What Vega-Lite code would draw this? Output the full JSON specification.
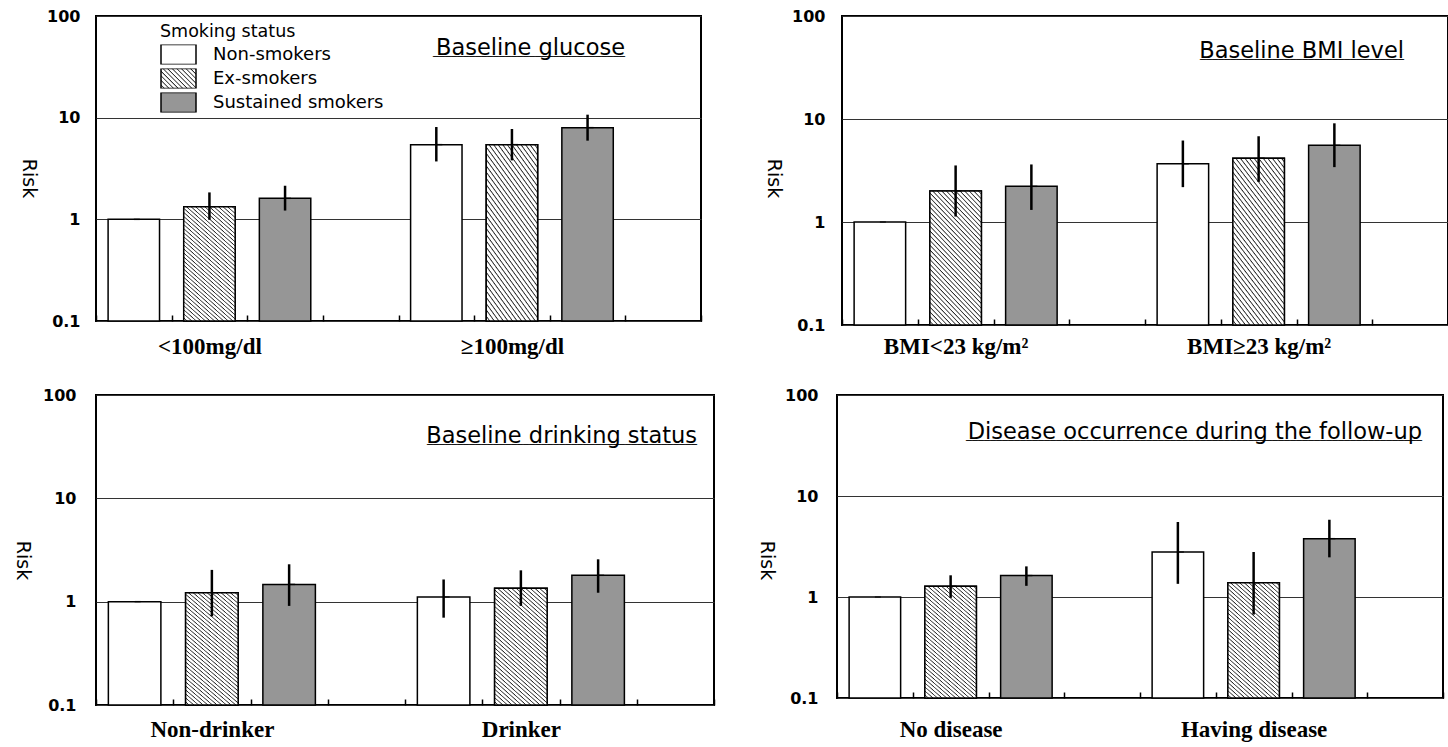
{
"$schema": "https://vega.github.io/schema/vega-lite/v6.json",
"padding": {"left": 11, "top": 7, "right": 0, "bottom": 0},
"config": {
 "font": "DejaVu Sans",
 "view": {"stroke": "black", "strokeWidth": 2},
 "axis": {"labelColor": "black", "titleColor": "black", "domain": false},
 "axisX": {"grid": false, "ticks": true, "tickBand": "extent", "tickSize": 6, "tickColor": "black", "tickWidth": 1.5, "labelAngle": 0, "labelFont": "Liberation Serif", "labelFontWeight": "bold", "labelFontSize": 23, "labelLimit": 0, "labelOverlap": false, "labelFlush": false},
 "axisY": {"grid": true, "gridColor": "#333333", "gridWidth": 1, "gridOpacity": 1, "ticks": false, "labelFont": "DejaVu Sans", "labelFontSize": 16, "labelFontWeight": "bold", "titleFont": "DejaVu Sans", "titleFontSize": 19, "titleFontWeight": "normal", "titleAngle": 90, "titleBaseline": "top"},
 "title": {"font": "DejaVu Sans", "fontSize": 22.5, "fontWeight": "normal", "color": "black", "anchor": "end", "frame": "group", "baseline": "alphabetic", "subtitleFont": "DejaVu Sans", "subtitleFontSize": 12, "subtitleColor": "black", "subtitlePadding": -14}
},
"datasets": {
 "glucose": [
  {"group": "<100mg/dl", "status": "Non-smokers", "bar": "<100mg/dl | Non-smokers", "risk": 1, "lo": 1, "hi": 1},
  {"group": "<100mg/dl", "status": "Ex-smokers", "bar": "<100mg/dl | Ex-smokers", "risk": 1.33, "lo": 0.99, "hi": 1.84},
  {"group": "<100mg/dl", "status": "Sustained smokers", "bar": "<100mg/dl | Sustained smokers", "risk": 1.61, "lo": 1.22, "hi": 2.14},
  {"group": "≥100mg/dl", "status": "Non-smokers", "bar": "≥100mg/dl | Non-smokers", "risk": 5.43, "lo": 3.71, "hi": 8.09},
  {"group": "≥100mg/dl", "status": "Ex-smokers", "bar": "≥100mg/dl | Ex-smokers", "risk": 5.43, "lo": 3.8, "hi": 7.74},
  {"group": "≥100mg/dl", "status": "Sustained smokers", "bar": "≥100mg/dl | Sustained smokers", "risk": 7.98, "lo": 5.94, "hi": 10.7}
 ],
 "bmi": [
  {"group": "BMI<23 kg/m²", "status": "Non-smokers", "bar": "BMI<23 kg/m² | Non-smokers", "risk": 1, "lo": 1, "hi": 1},
  {"group": "BMI<23 kg/m²", "status": "Ex-smokers", "bar": "BMI<23 kg/m² | Ex-smokers", "risk": 2.0, "lo": 1.13, "hi": 3.54},
  {"group": "BMI<23 kg/m²", "status": "Sustained smokers", "bar": "BMI<23 kg/m² | Sustained smokers", "risk": 2.22, "lo": 1.31, "hi": 3.62},
  {"group": "BMI≥23 kg/m²", "status": "Non-smokers", "bar": "BMI≥23 kg/m² | Non-smokers", "risk": 3.67, "lo": 2.18, "hi": 6.18},
  {"group": "BMI≥23 kg/m²", "status": "Ex-smokers", "bar": "BMI≥23 kg/m² | Ex-smokers", "risk": 4.17, "lo": 2.45, "hi": 6.8},
  {"group": "BMI≥23 kg/m²", "status": "Sustained smokers", "bar": "BMI≥23 kg/m² | Sustained smokers", "risk": 5.56, "lo": 3.41, "hi": 9.08}
 ],
 "drinking": [
  {"group": "Non-drinker", "status": "Non-smokers", "bar": "Non-drinker | Non-smokers", "risk": 1, "lo": 1, "hi": 1},
  {"group": "Non-drinker", "status": "Ex-smokers", "bar": "Non-drinker | Ex-smokers", "risk": 1.22, "lo": 0.72, "hi": 2.03},
  {"group": "Non-drinker", "status": "Sustained smokers", "bar": "Non-drinker | Sustained smokers", "risk": 1.47, "lo": 0.91, "hi": 2.3},
  {"group": "Drinker", "status": "Non-smokers", "bar": "Drinker | Non-smokers", "risk": 1.11, "lo": 0.7, "hi": 1.64},
  {"group": "Drinker", "status": "Ex-smokers", "bar": "Drinker | Ex-smokers", "risk": 1.35, "lo": 0.91, "hi": 2.01},
  {"group": "Drinker", "status": "Sustained smokers", "bar": "Drinker | Sustained smokers", "risk": 1.8, "lo": 1.22, "hi": 2.57}
 ],
 "disease": [
  {"group": "No disease", "status": "Non-smokers", "bar": "No disease | Non-smokers", "risk": 1, "lo": 1, "hi": 1},
  {"group": "No disease", "status": "Ex-smokers", "bar": "No disease | Ex-smokers", "risk": 1.28, "lo": 0.98, "hi": 1.64},
  {"group": "No disease", "status": "Sustained smokers", "bar": "No disease | Sustained smokers", "risk": 1.63, "lo": 1.29, "hi": 2.01},
  {"group": "Having disease", "status": "Non-smokers", "bar": "Having disease | Non-smokers", "risk": 2.79, "lo": 1.35, "hi": 5.53},
  {"group": "Having disease", "status": "Ex-smokers", "bar": "Having disease | Ex-smokers", "risk": 1.38, "lo": 0.67, "hi": 2.79},
  {"group": "Having disease", "status": "Sustained smokers", "bar": "Having disease | Sustained smokers", "risk": 3.78, "lo": 2.47, "hi": 5.82}
 ]
},
"resolve": {"scale": {"fill": "independent", "x": "independent", "y": "independent"}, "legend": {"fill": "independent"}, "axis": {"x": "independent", "y": "independent"}},
"spacing": 27,
"vconcat": [
 {
  "spacing": 59,
  "resolve": {"scale": {"fill": "independent", "x": "independent", "y": "independent"}, "legend": {"fill": "independent"}, "axis": {"x": "independent", "y": "independent"}},
  "hconcat": [
   {
    "width": 605, "height": 305,
    "data": {"name": "glucose"},
    "title": {"text": "Baseline glucose", "subtitle": "________________________________", "offset": -51, "dx": -76},
    "encoding": {
     "x": {"field": "bar", "type": "nominal",
      "scale": {"domain": ["<100mg/dl | Non-smokers", "<100mg/dl | Ex-smokers", "<100mg/dl | Sustained smokers", "gap1", "≥100mg/dl | Non-smokers", "≥100mg/dl | Ex-smokers", "≥100mg/dl | Sustained smokers", "gap2"], "paddingInner": 0, "paddingOuter": 0},
      "axis": {"title": null, "offset": -6, "labelPadding": 14, "labelExpr": "datum.value == '<100mg/dl | Ex-smokers' ? '<100mg/dl' : datum.value == '≥100mg/dl | Ex-smokers' ? '≥100mg/dl' : ''"}},
     "y": {"field": "risk", "type": "quantitative", "scale": {"type": "log", "domain": [0.1, 100]},
      "axis": {"title": "Risk", "values": [0.1, 1, 10, 100], "format": "~g", "titleY": 162, "labelPadding": 16, "titlePadding": 9}}
    },
    "layer": [
     {"mark": {"type": "bar", "stroke": "black", "strokeWidth": 1.5, "width": {"band": 0.68}},
      "encoding": {"y2": {"datum": 0.1},
       "fill": {"field": "status", "type": "nominal",
        "scale": {"domain": ["Non-smokers", "Ex-smokers", "Sustained smokers"], "range": ["#ffffff", {"expr": "{gradient: 'linear', x1: 0, y1: 1, x2: 1.185, y2: 0.324, stops: [{offset: 0, color: '#fff'}, {offset: 0.043, color: '#fff'}, {offset: 0.067, color: '#222'}, {offset: 0.083, color: '#fff'}, {offset: 0.127, color: '#fff'}, {offset: 0.15, color: '#222'}, {offset: 0.167, color: '#fff'}, {offset: 0.21, color: '#fff'}, {offset: 0.233, color: '#222'}, {offset: 0.25, color: '#fff'}, {offset: 0.293, color: '#fff'}, {offset: 0.317, color: '#222'}, {offset: 0.333, color: '#fff'}, {offset: 0.377, color: '#fff'}, {offset: 0.4, color: '#222'}, {offset: 0.417, color: '#fff'}, {offset: 0.46, color: '#fff'}, {offset: 0.483, color: '#222'}, {offset: 0.5, color: '#fff'}, {offset: 0.543, color: '#fff'}, {offset: 0.567, color: '#222'}, {offset: 0.583, color: '#fff'}, {offset: 0.627, color: '#fff'}, {offset: 0.65, color: '#222'}, {offset: 0.667, color: '#fff'}, {offset: 0.71, color: '#fff'}, {offset: 0.733, color: '#222'}, {offset: 0.75, color: '#fff'}, {offset: 0.793, color: '#fff'}, {offset: 0.817, color: '#222'}, {offset: 0.833, color: '#fff'}, {offset: 0.877, color: '#fff'}, {offset: 0.9, color: '#222'}, {offset: 0.917, color: '#fff'}, {offset: 0.96, color: '#fff'}, {offset: 0.983, color: '#222'}, {offset: 1, color: '#fff'}]}"}, "#969696"]},
        "legend": {"orient": "none", "legendX": 64, "legendY": 7, "title": "Smoking status", "titleFont": "DejaVu Sans", "titleFontSize": 17.5, "titleFontWeight": "normal", "titleColor": "black", "titlePadding": 4, "labelFont": "DejaVu Sans", "labelFontSize": 18, "labelColor": "black", "labelOffset": 16, "labelLimit": 300, "symbolType": "M-1,-0.571H1V0.571H-1Z", "symbolSize": 1225, "symbolStrokeColor": "black", "symbolStrokeWidth": 1.5, "symbolOpacity": 1, "clipHeight": 20, "rowPadding": 4, "padding": 0}}}},
     {"transform": [{"filter": "datum.status === 'Ex-smokers'"}], "mark": {"type": "bar", "stroke": "black", "strokeWidth": 1.5, "width": {"band": 0.68}, "fill": {"gradient": "linear", "x1": 0, "y1": 1, "x2": 0.49, "y2": -0.224, "stops": [
{"offset":0,"color":"#fff"},{"offset":0.013,"color":"#fff"},{"offset":0.02,"color":"#222"},
{"offset":0.025,"color":"#fff"},{"offset":0.038,"color":"#fff"},{"offset":0.045,"color":"#222"},
{"offset":0.05,"color":"#fff"},{"offset":0.063,"color":"#fff"},{"offset":0.07,"color":"#222"},
{"offset":0.075,"color":"#fff"},{"offset":0.088,"color":"#fff"},{"offset":0.095,"color":"#222"},
{"offset":0.1,"color":"#fff"},{"offset":0.113,"color":"#fff"},{"offset":0.12,"color":"#222"},
{"offset":0.125,"color":"#fff"},{"offset":0.138,"color":"#fff"},{"offset":0.145,"color":"#222"},
{"offset":0.15,"color":"#fff"},{"offset":0.163,"color":"#fff"},{"offset":0.17,"color":"#222"},
{"offset":0.175,"color":"#fff"},{"offset":0.188,"color":"#fff"},{"offset":0.195,"color":"#222"},
{"offset":0.2,"color":"#fff"},{"offset":0.213,"color":"#fff"},{"offset":0.22,"color":"#222"},
{"offset":0.225,"color":"#fff"},{"offset":0.238,"color":"#fff"},{"offset":0.245,"color":"#222"},
{"offset":0.25,"color":"#fff"},{"offset":0.263,"color":"#fff"},{"offset":0.27,"color":"#222"},
{"offset":0.275,"color":"#fff"},{"offset":0.288,"color":"#fff"},{"offset":0.295,"color":"#222"},
{"offset":0.3,"color":"#fff"},{"offset":0.313,"color":"#fff"},{"offset":0.32,"color":"#222"},
{"offset":0.325,"color":"#fff"},{"offset":0.338,"color":"#fff"},{"offset":0.345,"color":"#222"},
{"offset":0.35,"color":"#fff"},{"offset":0.363,"color":"#fff"},{"offset":0.37,"color":"#222"},
{"offset":0.375,"color":"#fff"},{"offset":0.388,"color":"#fff"},{"offset":0.395,"color":"#222"},
{"offset":0.4,"color":"#fff"},{"offset":0.413,"color":"#fff"},{"offset":0.42,"color":"#222"},
{"offset":0.425,"color":"#fff"},{"offset":0.438,"color":"#fff"},{"offset":0.445,"color":"#222"},
{"offset":0.45,"color":"#fff"},{"offset":0.463,"color":"#fff"},{"offset":0.47,"color":"#222"},
{"offset":0.475,"color":"#fff"},{"offset":0.488,"color":"#fff"},{"offset":0.495,"color":"#222"},
{"offset":0.5,"color":"#fff"},{"offset":0.513,"color":"#fff"},{"offset":0.52,"color":"#222"},
{"offset":0.525,"color":"#fff"},{"offset":0.538,"color":"#fff"},{"offset":0.545,"color":"#222"},
{"offset":0.55,"color":"#fff"},{"offset":0.563,"color":"#fff"},{"offset":0.57,"color":"#222"},
{"offset":0.575,"color":"#fff"},{"offset":0.588,"color":"#fff"},{"offset":0.595,"color":"#222"},
{"offset":0.6,"color":"#fff"},{"offset":0.613,"color":"#fff"},{"offset":0.62,"color":"#222"},
{"offset":0.625,"color":"#fff"},{"offset":0.638,"color":"#fff"},{"offset":0.645,"color":"#222"},
{"offset":0.65,"color":"#fff"},{"offset":0.663,"color":"#fff"},{"offset":0.67,"color":"#222"},
{"offset":0.675,"color":"#fff"},{"offset":0.688,"color":"#fff"},{"offset":0.695,"color":"#222"},
{"offset":0.7,"color":"#fff"},{"offset":0.713,"color":"#fff"},{"offset":0.72,"color":"#222"},
{"offset":0.725,"color":"#fff"},{"offset":0.738,"color":"#fff"},{"offset":0.745,"color":"#222"},
{"offset":0.75,"color":"#fff"},{"offset":0.763,"color":"#fff"},{"offset":0.77,"color":"#222"},
{"offset":0.775,"color":"#fff"},{"offset":0.788,"color":"#fff"},{"offset":0.795,"color":"#222"},
{"offset":0.8,"color":"#fff"},{"offset":0.813,"color":"#fff"},{"offset":0.82,"color":"#222"},
{"offset":0.825,"color":"#fff"},{"offset":0.838,"color":"#fff"},{"offset":0.845,"color":"#222"},
{"offset":0.85,"color":"#fff"},{"offset":0.863,"color":"#fff"},{"offset":0.87,"color":"#222"},
{"offset":0.875,"color":"#fff"},{"offset":0.888,"color":"#fff"},{"offset":0.895,"color":"#222"},
{"offset":0.9,"color":"#fff"},{"offset":0.913,"color":"#fff"},{"offset":0.92,"color":"#222"},
{"offset":0.925,"color":"#fff"},{"offset":0.938,"color":"#fff"},{"offset":0.945,"color":"#222"},
{"offset":0.95,"color":"#fff"},{"offset":0.963,"color":"#fff"},{"offset":0.97,"color":"#222"},
{"offset":0.975,"color":"#fff"},{"offset":0.988,"color":"#fff"},{"offset":0.995,"color":"#222"},
{"offset":1,"color":"#fff"}
 ]}}, "encoding": {"y2": {"datum": 0.1}}},
     {"mark": {"type": "rule", "strokeWidth": 2.5, "color": "black"}, "encoding": {"y": {"field": "lo", "type": "quantitative"}, "y2": {"field": "hi"}}},
     {"mark": {"type": "tick", "orient": "horizontal", "size": 6, "thickness": 1.5, "xOffset": 3, "color": "black"}, "encoding": {}}
    ]
   },
   {
    "width": 606, "height": 309,
    "data": {"name": "bmi"},
    "title": {"text": "Baseline BMI level", "subtitle": "__________________________________", "offset": -54, "dx": -44},
    "encoding": {
     "x": {"field": "bar", "type": "nominal",
      "scale": {"domain": ["BMI<23 kg/m² | Non-smokers", "BMI<23 kg/m² | Ex-smokers", "BMI<23 kg/m² | Sustained smokers", "gap1", "BMI≥23 kg/m² | Non-smokers", "BMI≥23 kg/m² | Ex-smokers", "BMI≥23 kg/m² | Sustained smokers", "gap2"], "paddingInner": 0, "paddingOuter": 0},
      "axis": {"title": null, "offset": -6, "labelPadding": 10, "labelExpr": "datum.value == 'BMI<23 kg/m² | Ex-smokers' ? 'BMI<23 kg/m²' : datum.value == 'BMI≥23 kg/m² | Ex-smokers' ? 'BMI≥23 kg/m²' : ''"}},
     "y": {"field": "risk", "type": "quantitative", "scale": {"type": "log", "domain": [0.1, 100]},
      "axis": {"title": "Risk", "values": [0.1, 1, 10, 100], "format": "~g", "titleY": 162, "labelPadding": 17, "titlePadding": 9}}
    },
    "layer": [
     {"mark": {"type": "bar", "stroke": "black", "strokeWidth": 1.5, "width": {"band": 0.68}},
      "encoding": {"y2": {"datum": 0.1},
       "fill": {"field": "status", "type": "nominal", "scale": {"domain": ["Non-smokers", "Ex-smokers", "Sustained smokers"], "range": ["#ffffff", "#ffffff", "#969696"]}, "legend": null}}},
     {"transform": [{"filter": "datum.status === 'Ex-smokers'"}], "mark": {"type": "bar", "stroke": "black", "strokeWidth": 1.5, "width": {"band": 0.68}, "fill": {"gradient": "linear", "x1": 0, "y1": 1, "x2": 0.49, "y2": -0.224, "stops": [
{"offset":0,"color":"#fff"},{"offset":0.013,"color":"#fff"},{"offset":0.02,"color":"#222"},
{"offset":0.025,"color":"#fff"},{"offset":0.038,"color":"#fff"},{"offset":0.045,"color":"#222"},
{"offset":0.05,"color":"#fff"},{"offset":0.063,"color":"#fff"},{"offset":0.07,"color":"#222"},
{"offset":0.075,"color":"#fff"},{"offset":0.088,"color":"#fff"},{"offset":0.095,"color":"#222"},
{"offset":0.1,"color":"#fff"},{"offset":0.113,"color":"#fff"},{"offset":0.12,"color":"#222"},
{"offset":0.125,"color":"#fff"},{"offset":0.138,"color":"#fff"},{"offset":0.145,"color":"#222"},
{"offset":0.15,"color":"#fff"},{"offset":0.163,"color":"#fff"},{"offset":0.17,"color":"#222"},
{"offset":0.175,"color":"#fff"},{"offset":0.188,"color":"#fff"},{"offset":0.195,"color":"#222"},
{"offset":0.2,"color":"#fff"},{"offset":0.213,"color":"#fff"},{"offset":0.22,"color":"#222"},
{"offset":0.225,"color":"#fff"},{"offset":0.238,"color":"#fff"},{"offset":0.245,"color":"#222"},
{"offset":0.25,"color":"#fff"},{"offset":0.263,"color":"#fff"},{"offset":0.27,"color":"#222"},
{"offset":0.275,"color":"#fff"},{"offset":0.288,"color":"#fff"},{"offset":0.295,"color":"#222"},
{"offset":0.3,"color":"#fff"},{"offset":0.313,"color":"#fff"},{"offset":0.32,"color":"#222"},
{"offset":0.325,"color":"#fff"},{"offset":0.338,"color":"#fff"},{"offset":0.345,"color":"#222"},
{"offset":0.35,"color":"#fff"},{"offset":0.363,"color":"#fff"},{"offset":0.37,"color":"#222"},
{"offset":0.375,"color":"#fff"},{"offset":0.388,"color":"#fff"},{"offset":0.395,"color":"#222"},
{"offset":0.4,"color":"#fff"},{"offset":0.413,"color":"#fff"},{"offset":0.42,"color":"#222"},
{"offset":0.425,"color":"#fff"},{"offset":0.438,"color":"#fff"},{"offset":0.445,"color":"#222"},
{"offset":0.45,"color":"#fff"},{"offset":0.463,"color":"#fff"},{"offset":0.47,"color":"#222"},
{"offset":0.475,"color":"#fff"},{"offset":0.488,"color":"#fff"},{"offset":0.495,"color":"#222"},
{"offset":0.5,"color":"#fff"},{"offset":0.513,"color":"#fff"},{"offset":0.52,"color":"#222"},
{"offset":0.525,"color":"#fff"},{"offset":0.538,"color":"#fff"},{"offset":0.545,"color":"#222"},
{"offset":0.55,"color":"#fff"},{"offset":0.563,"color":"#fff"},{"offset":0.57,"color":"#222"},
{"offset":0.575,"color":"#fff"},{"offset":0.588,"color":"#fff"},{"offset":0.595,"color":"#222"},
{"offset":0.6,"color":"#fff"},{"offset":0.613,"color":"#fff"},{"offset":0.62,"color":"#222"},
{"offset":0.625,"color":"#fff"},{"offset":0.638,"color":"#fff"},{"offset":0.645,"color":"#222"},
{"offset":0.65,"color":"#fff"},{"offset":0.663,"color":"#fff"},{"offset":0.67,"color":"#222"},
{"offset":0.675,"color":"#fff"},{"offset":0.688,"color":"#fff"},{"offset":0.695,"color":"#222"},
{"offset":0.7,"color":"#fff"},{"offset":0.713,"color":"#fff"},{"offset":0.72,"color":"#222"},
{"offset":0.725,"color":"#fff"},{"offset":0.738,"color":"#fff"},{"offset":0.745,"color":"#222"},
{"offset":0.75,"color":"#fff"},{"offset":0.763,"color":"#fff"},{"offset":0.77,"color":"#222"},
{"offset":0.775,"color":"#fff"},{"offset":0.788,"color":"#fff"},{"offset":0.795,"color":"#222"},
{"offset":0.8,"color":"#fff"},{"offset":0.813,"color":"#fff"},{"offset":0.82,"color":"#222"},
{"offset":0.825,"color":"#fff"},{"offset":0.838,"color":"#fff"},{"offset":0.845,"color":"#222"},
{"offset":0.85,"color":"#fff"},{"offset":0.863,"color":"#fff"},{"offset":0.87,"color":"#222"},
{"offset":0.875,"color":"#fff"},{"offset":0.888,"color":"#fff"},{"offset":0.895,"color":"#222"},
{"offset":0.9,"color":"#fff"},{"offset":0.913,"color":"#fff"},{"offset":0.92,"color":"#222"},
{"offset":0.925,"color":"#fff"},{"offset":0.938,"color":"#fff"},{"offset":0.945,"color":"#222"},
{"offset":0.95,"color":"#fff"},{"offset":0.963,"color":"#fff"},{"offset":0.97,"color":"#222"},
{"offset":0.975,"color":"#fff"},{"offset":0.988,"color":"#fff"},{"offset":0.995,"color":"#222"},
{"offset":1,"color":"#fff"}
 ]}}, "encoding": {"y2": {"datum": 0.1}}},
     {"mark": {"type": "rule", "strokeWidth": 2.5, "color": "black"}, "encoding": {"y": {"field": "lo", "type": "quantitative"}, "y2": {"field": "hi"}}},
     {"mark": {"type": "tick", "orient": "horizontal", "size": 6, "thickness": 1.5, "xOffset": 3, "color": "black"}, "encoding": {}}
    ]
   }
  ]
 },
 {
  "spacing": 39,
  "resolve": {"scale": {"fill": "independent", "x": "independent", "y": "independent"}, "legend": {"fill": "independent"}, "axis": {"x": "independent", "y": "independent"}},
  "hconcat": [
   {
    "width": 618, "height": 310,
    "data": {"name": "drinking"},
    "title": {"text": "Baseline drinking status", "subtitle": "_____________________________________________", "offset": -60, "dx": -17},
    "encoding": {
     "x": {"field": "bar", "type": "nominal",
      "scale": {"domain": ["Non-drinker | Non-smokers", "Non-drinker | Ex-smokers", "Non-drinker | Sustained smokers", "gap1", "Drinker | Non-smokers", "Drinker | Ex-smokers", "Drinker | Sustained smokers", "gap2"], "paddingInner": 0, "paddingOuter": 0},
      "axis": {"title": null, "offset": -6, "labelPadding": 13, "labelExpr": "datum.value == 'Non-drinker | Ex-smokers' ? 'Non-drinker' : datum.value == 'Drinker | Ex-smokers' ? 'Drinker' : ''"}},
     "y": {"field": "risk", "type": "quantitative", "scale": {"type": "log", "domain": [0.1, 100]},
      "axis": {"title": "Risk", "values": [0.1, 1, 10, 100], "format": "~g", "titleY": 165, "labelPadding": 20, "titlePadding": 11}}
    },
    "layer": [
     {"mark": {"type": "bar", "stroke": "black", "strokeWidth": 1.5, "width": {"band": 0.68}},
      "encoding": {"y2": {"datum": 0.1},
       "fill": {"field": "status", "type": "nominal", "scale": {"domain": ["Non-smokers", "Ex-smokers", "Sustained smokers"], "range": ["#ffffff", "#ffffff", "#969696"]}, "legend": null}}},
     {"transform": [{"filter": "datum.status === 'Ex-smokers'"}], "mark": {"type": "bar", "stroke": "black", "strokeWidth": 1.5, "width": {"band": 0.68}, "fill": {"gradient": "linear", "x1": 0, "y1": 1, "x2": 0.49, "y2": -0.224, "stops": [
{"offset":0,"color":"#fff"},{"offset":0.013,"color":"#fff"},{"offset":0.02,"color":"#222"},
{"offset":0.025,"color":"#fff"},{"offset":0.038,"color":"#fff"},{"offset":0.045,"color":"#222"},
{"offset":0.05,"color":"#fff"},{"offset":0.063,"color":"#fff"},{"offset":0.07,"color":"#222"},
{"offset":0.075,"color":"#fff"},{"offset":0.088,"color":"#fff"},{"offset":0.095,"color":"#222"},
{"offset":0.1,"color":"#fff"},{"offset":0.113,"color":"#fff"},{"offset":0.12,"color":"#222"},
{"offset":0.125,"color":"#fff"},{"offset":0.138,"color":"#fff"},{"offset":0.145,"color":"#222"},
{"offset":0.15,"color":"#fff"},{"offset":0.163,"color":"#fff"},{"offset":0.17,"color":"#222"},
{"offset":0.175,"color":"#fff"},{"offset":0.188,"color":"#fff"},{"offset":0.195,"color":"#222"},
{"offset":0.2,"color":"#fff"},{"offset":0.213,"color":"#fff"},{"offset":0.22,"color":"#222"},
{"offset":0.225,"color":"#fff"},{"offset":0.238,"color":"#fff"},{"offset":0.245,"color":"#222"},
{"offset":0.25,"color":"#fff"},{"offset":0.263,"color":"#fff"},{"offset":0.27,"color":"#222"},
{"offset":0.275,"color":"#fff"},{"offset":0.288,"color":"#fff"},{"offset":0.295,"color":"#222"},
{"offset":0.3,"color":"#fff"},{"offset":0.313,"color":"#fff"},{"offset":0.32,"color":"#222"},
{"offset":0.325,"color":"#fff"},{"offset":0.338,"color":"#fff"},{"offset":0.345,"color":"#222"},
{"offset":0.35,"color":"#fff"},{"offset":0.363,"color":"#fff"},{"offset":0.37,"color":"#222"},
{"offset":0.375,"color":"#fff"},{"offset":0.388,"color":"#fff"},{"offset":0.395,"color":"#222"},
{"offset":0.4,"color":"#fff"},{"offset":0.413,"color":"#fff"},{"offset":0.42,"color":"#222"},
{"offset":0.425,"color":"#fff"},{"offset":0.438,"color":"#fff"},{"offset":0.445,"color":"#222"},
{"offset":0.45,"color":"#fff"},{"offset":0.463,"color":"#fff"},{"offset":0.47,"color":"#222"},
{"offset":0.475,"color":"#fff"},{"offset":0.488,"color":"#fff"},{"offset":0.495,"color":"#222"},
{"offset":0.5,"color":"#fff"},{"offset":0.513,"color":"#fff"},{"offset":0.52,"color":"#222"},
{"offset":0.525,"color":"#fff"},{"offset":0.538,"color":"#fff"},{"offset":0.545,"color":"#222"},
{"offset":0.55,"color":"#fff"},{"offset":0.563,"color":"#fff"},{"offset":0.57,"color":"#222"},
{"offset":0.575,"color":"#fff"},{"offset":0.588,"color":"#fff"},{"offset":0.595,"color":"#222"},
{"offset":0.6,"color":"#fff"},{"offset":0.613,"color":"#fff"},{"offset":0.62,"color":"#222"},
{"offset":0.625,"color":"#fff"},{"offset":0.638,"color":"#fff"},{"offset":0.645,"color":"#222"},
{"offset":0.65,"color":"#fff"},{"offset":0.663,"color":"#fff"},{"offset":0.67,"color":"#222"},
{"offset":0.675,"color":"#fff"},{"offset":0.688,"color":"#fff"},{"offset":0.695,"color":"#222"},
{"offset":0.7,"color":"#fff"},{"offset":0.713,"color":"#fff"},{"offset":0.72,"color":"#222"},
{"offset":0.725,"color":"#fff"},{"offset":0.738,"color":"#fff"},{"offset":0.745,"color":"#222"},
{"offset":0.75,"color":"#fff"},{"offset":0.763,"color":"#fff"},{"offset":0.77,"color":"#222"},
{"offset":0.775,"color":"#fff"},{"offset":0.788,"color":"#fff"},{"offset":0.795,"color":"#222"},
{"offset":0.8,"color":"#fff"},{"offset":0.813,"color":"#fff"},{"offset":0.82,"color":"#222"},
{"offset":0.825,"color":"#fff"},{"offset":0.838,"color":"#fff"},{"offset":0.845,"color":"#222"},
{"offset":0.85,"color":"#fff"},{"offset":0.863,"color":"#fff"},{"offset":0.87,"color":"#222"},
{"offset":0.875,"color":"#fff"},{"offset":0.888,"color":"#fff"},{"offset":0.895,"color":"#222"},
{"offset":0.9,"color":"#fff"},{"offset":0.913,"color":"#fff"},{"offset":0.92,"color":"#222"},
{"offset":0.925,"color":"#fff"},{"offset":0.938,"color":"#fff"},{"offset":0.945,"color":"#222"},
{"offset":0.95,"color":"#fff"},{"offset":0.963,"color":"#fff"},{"offset":0.97,"color":"#222"},
{"offset":0.975,"color":"#fff"},{"offset":0.988,"color":"#fff"},{"offset":0.995,"color":"#222"},
{"offset":1,"color":"#fff"}
 ]}}, "encoding": {"y2": {"datum": 0.1}}},
     {"mark": {"type": "rule", "strokeWidth": 2.5, "color": "black"}, "encoding": {"y": {"field": "lo", "type": "quantitative"}, "y2": {"field": "hi"}}},
     {"mark": {"type": "tick", "orient": "horizontal", "size": 6, "thickness": 1.5, "xOffset": 3, "color": "black"}, "encoding": {}}
    ]
   },
   {
    "width": 606, "height": 303,
    "data": {"name": "disease"},
    "title": {"text": "Disease occurrence during the follow-up", "subtitle": "____________________________________________________________________________", "offset": -56, "dx": -21},
    "encoding": {
     "x": {"field": "bar", "type": "nominal",
      "scale": {"domain": ["No disease | Non-smokers", "No disease | Ex-smokers", "No disease | Sustained smokers", "gap1", "Having disease | Non-smokers", "Having disease | Ex-smokers", "Having disease | Sustained smokers", "gap2"], "paddingInner": 0, "paddingOuter": 0},
      "axis": {"title": null, "offset": -6, "labelPadding": 20, "labelExpr": "datum.value == 'No disease | Ex-smokers' ? 'No disease' : datum.value == 'Having disease | Ex-smokers' ? 'Having disease' : ''"}},
     "y": {"field": "risk", "type": "quantitative", "scale": {"type": "log", "domain": [0.1, 100]},
      "axis": {"title": "Risk", "values": [0.1, 1, 10, 100], "format": "~g", "titleY": 165, "labelPadding": 19, "titlePadding": 9}}
    },
    "layer": [
     {"mark": {"type": "bar", "stroke": "black", "strokeWidth": 1.5, "width": {"band": 0.68}},
      "encoding": {"y2": {"datum": 0.1},
       "fill": {"field": "status", "type": "nominal", "scale": {"domain": ["Non-smokers", "Ex-smokers", "Sustained smokers"], "range": ["#ffffff", "#ffffff", "#969696"]}, "legend": null}}},
     {"transform": [{"filter": "datum.status === 'Ex-smokers'"}], "mark": {"type": "bar", "stroke": "black", "strokeWidth": 1.5, "width": {"band": 0.68}, "fill": {"gradient": "linear", "x1": 0, "y1": 1, "x2": 0.49, "y2": -0.224, "stops": [
{"offset":0,"color":"#fff"},{"offset":0.013,"color":"#fff"},{"offset":0.02,"color":"#222"},
{"offset":0.025,"color":"#fff"},{"offset":0.038,"color":"#fff"},{"offset":0.045,"color":"#222"},
{"offset":0.05,"color":"#fff"},{"offset":0.063,"color":"#fff"},{"offset":0.07,"color":"#222"},
{"offset":0.075,"color":"#fff"},{"offset":0.088,"color":"#fff"},{"offset":0.095,"color":"#222"},
{"offset":0.1,"color":"#fff"},{"offset":0.113,"color":"#fff"},{"offset":0.12,"color":"#222"},
{"offset":0.125,"color":"#fff"},{"offset":0.138,"color":"#fff"},{"offset":0.145,"color":"#222"},
{"offset":0.15,"color":"#fff"},{"offset":0.163,"color":"#fff"},{"offset":0.17,"color":"#222"},
{"offset":0.175,"color":"#fff"},{"offset":0.188,"color":"#fff"},{"offset":0.195,"color":"#222"},
{"offset":0.2,"color":"#fff"},{"offset":0.213,"color":"#fff"},{"offset":0.22,"color":"#222"},
{"offset":0.225,"color":"#fff"},{"offset":0.238,"color":"#fff"},{"offset":0.245,"color":"#222"},
{"offset":0.25,"color":"#fff"},{"offset":0.263,"color":"#fff"},{"offset":0.27,"color":"#222"},
{"offset":0.275,"color":"#fff"},{"offset":0.288,"color":"#fff"},{"offset":0.295,"color":"#222"},
{"offset":0.3,"color":"#fff"},{"offset":0.313,"color":"#fff"},{"offset":0.32,"color":"#222"},
{"offset":0.325,"color":"#fff"},{"offset":0.338,"color":"#fff"},{"offset":0.345,"color":"#222"},
{"offset":0.35,"color":"#fff"},{"offset":0.363,"color":"#fff"},{"offset":0.37,"color":"#222"},
{"offset":0.375,"color":"#fff"},{"offset":0.388,"color":"#fff"},{"offset":0.395,"color":"#222"},
{"offset":0.4,"color":"#fff"},{"offset":0.413,"color":"#fff"},{"offset":0.42,"color":"#222"},
{"offset":0.425,"color":"#fff"},{"offset":0.438,"color":"#fff"},{"offset":0.445,"color":"#222"},
{"offset":0.45,"color":"#fff"},{"offset":0.463,"color":"#fff"},{"offset":0.47,"color":"#222"},
{"offset":0.475,"color":"#fff"},{"offset":0.488,"color":"#fff"},{"offset":0.495,"color":"#222"},
{"offset":0.5,"color":"#fff"},{"offset":0.513,"color":"#fff"},{"offset":0.52,"color":"#222"},
{"offset":0.525,"color":"#fff"},{"offset":0.538,"color":"#fff"},{"offset":0.545,"color":"#222"},
{"offset":0.55,"color":"#fff"},{"offset":0.563,"color":"#fff"},{"offset":0.57,"color":"#222"},
{"offset":0.575,"color":"#fff"},{"offset":0.588,"color":"#fff"},{"offset":0.595,"color":"#222"},
{"offset":0.6,"color":"#fff"},{"offset":0.613,"color":"#fff"},{"offset":0.62,"color":"#222"},
{"offset":0.625,"color":"#fff"},{"offset":0.638,"color":"#fff"},{"offset":0.645,"color":"#222"},
{"offset":0.65,"color":"#fff"},{"offset":0.663,"color":"#fff"},{"offset":0.67,"color":"#222"},
{"offset":0.675,"color":"#fff"},{"offset":0.688,"color":"#fff"},{"offset":0.695,"color":"#222"},
{"offset":0.7,"color":"#fff"},{"offset":0.713,"color":"#fff"},{"offset":0.72,"color":"#222"},
{"offset":0.725,"color":"#fff"},{"offset":0.738,"color":"#fff"},{"offset":0.745,"color":"#222"},
{"offset":0.75,"color":"#fff"},{"offset":0.763,"color":"#fff"},{"offset":0.77,"color":"#222"},
{"offset":0.775,"color":"#fff"},{"offset":0.788,"color":"#fff"},{"offset":0.795,"color":"#222"},
{"offset":0.8,"color":"#fff"},{"offset":0.813,"color":"#fff"},{"offset":0.82,"color":"#222"},
{"offset":0.825,"color":"#fff"},{"offset":0.838,"color":"#fff"},{"offset":0.845,"color":"#222"},
{"offset":0.85,"color":"#fff"},{"offset":0.863,"color":"#fff"},{"offset":0.87,"color":"#222"},
{"offset":0.875,"color":"#fff"},{"offset":0.888,"color":"#fff"},{"offset":0.895,"color":"#222"},
{"offset":0.9,"color":"#fff"},{"offset":0.913,"color":"#fff"},{"offset":0.92,"color":"#222"},
{"offset":0.925,"color":"#fff"},{"offset":0.938,"color":"#fff"},{"offset":0.945,"color":"#222"},
{"offset":0.95,"color":"#fff"},{"offset":0.963,"color":"#fff"},{"offset":0.97,"color":"#222"},
{"offset":0.975,"color":"#fff"},{"offset":0.988,"color":"#fff"},{"offset":0.995,"color":"#222"},
{"offset":1,"color":"#fff"}
 ]}}, "encoding": {"y2": {"datum": 0.1}}},
     {"mark": {"type": "rule", "strokeWidth": 2.5, "color": "black"}, "encoding": {"y": {"field": "lo", "type": "quantitative"}, "y2": {"field": "hi"}}},
     {"mark": {"type": "tick", "orient": "horizontal", "size": 6, "thickness": 1.5, "xOffset": 3, "color": "black"}, "encoding": {}}
    ]
   }
  ]
 }
]
}
